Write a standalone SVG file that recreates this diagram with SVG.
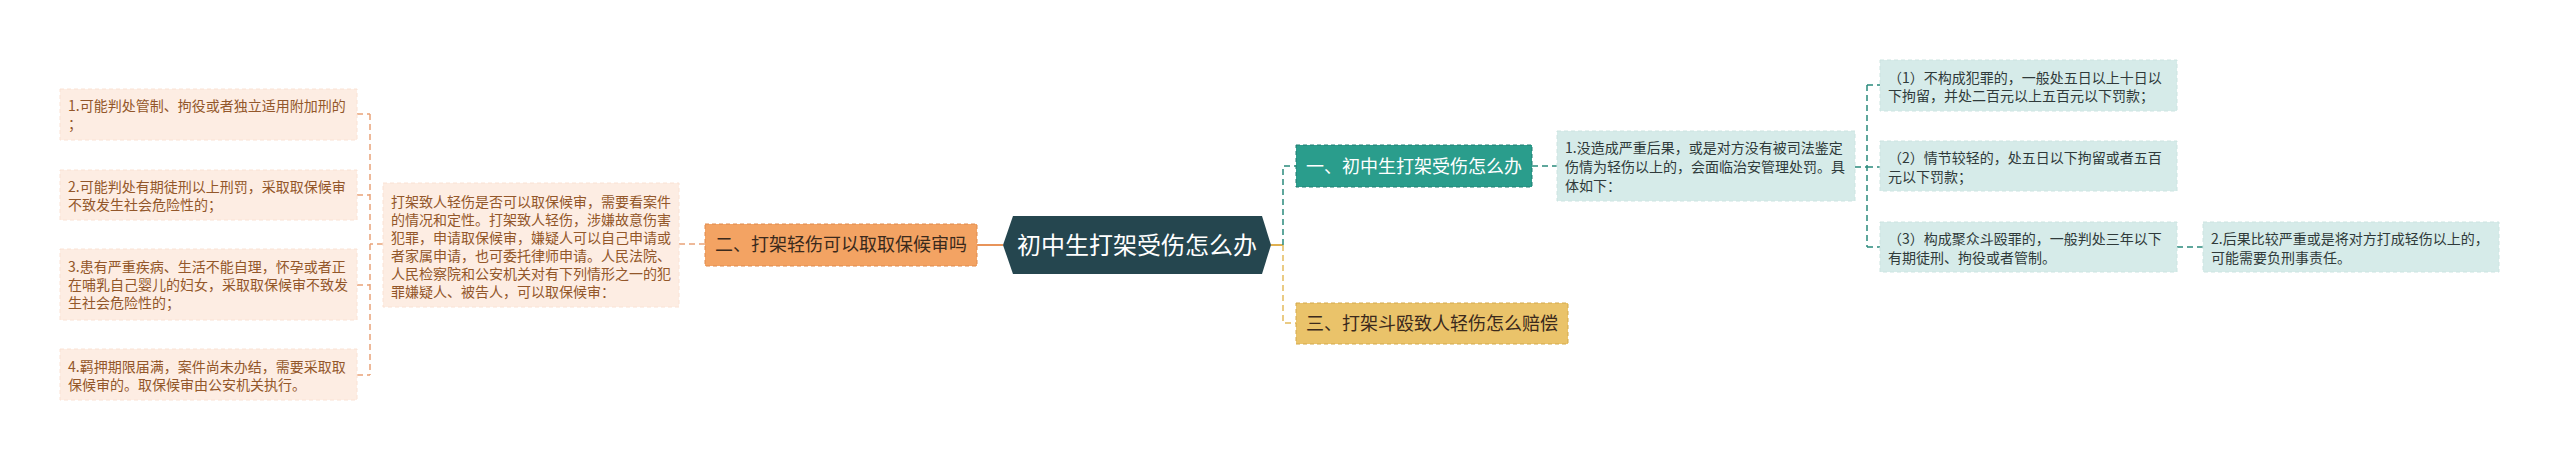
<svg xmlns="http://www.w3.org/2000/svg" width="2560" height="461" viewBox="0 0 2560 461">
<style>
text{font-family:"Noto Sans CJK SC","Noto Sans",sans-serif}
.lbox{fill:#FDEDE3;stroke:#FAE2D4;stroke-width:1;stroke-dasharray:4 3}
.ltxt{font-size:14px;fill:#93572A}
.rbox{fill:#D6EBE9;stroke:#CCE4E1;stroke-width:1;stroke-dasharray:4 3}
.rtxt{font-size:14px;fill:#2F3A3A}
.c-or{fill:none;stroke:#E9A278;stroke-width:1.5;stroke-dasharray:6 4}
.c-tl{fill:none;stroke:#2A8A7C;stroke-width:1.5;stroke-dasharray:6 4}
.c-yl{fill:none;stroke:#E3BA5C;stroke-width:1.5;stroke-dasharray:6 4}
.mid{text-anchor:middle}
</style>
<rect width="2560" height="461" fill="#FFFFFF"/>
<g id="connectors">
<path class="c-or" d="M383 244H370M370 114V375M357 114H370M357 195H370M357 285H370M357 375H370"/>
<path class="c-or" d="M705 244H679"/>
<path d="M977 245H1003" fill="none" stroke="#E8945A" stroke-width="2"/>
<path d="M1271 245H1283" fill="none" stroke="#E0B050" stroke-width="2"/>
<path class="c-tl" d="M1283 245V166H1296" stroke-width="2"/>
<path class="c-yl" d="M1283 245V323H1296" stroke-width="2"/>
<path class="c-tl" d="M1532 166H1557"/>
<path class="c-tl" d="M1855 167H1867M1867 85V247M1867 85H1880M1867 167H1880M1867 247H1880"/>
<path class="c-tl" d="M2177 247H2203"/>
</g>
<g id="root">
<polygon points="1003,245 1013,216 1262,216 1271,245 1262,274 1013,274" fill="#25464F"/>
<text class="mid" x="1137" y="254" font-size="24" fill="#FFFFFF">初中生打架受伤怎么办</text>
</g>
<g id="n2">
<rect x="705" y="224" width="272" height="42" fill="#F3A363" stroke="#E08A4C" stroke-width="1" stroke-dasharray="4 3"/>
<text class="mid" x="841" y="251" font-size="18" fill="#3B2A1C">二、打架轻伤可以取取保候审吗</text>
</g>
<g id="n2-desc">
<rect class="lbox" x="383" y="183" width="296" height="124"/>
<text class="ltxt"><tspan x="391" y="207">打架致人轻伤是否可以取保候审，需要看案件</tspan><tspan x="391" y="225">的情况和定性。打架致人轻伤，涉嫌故意伤害</tspan><tspan x="391" y="243">犯罪，申请取保候审，嫌疑人可以自己申请或</tspan><tspan x="391" y="261">者家属申请，也可委托律师申请。人民法院、</tspan><tspan x="391" y="279">人民检察院和公安机关对有下列情形之一的犯</tspan><tspan x="391" y="297">罪嫌疑人、被告人，可以取保候审：</tspan></text>
</g>
<g id="l1">
<rect class="lbox" x="60" y="89" width="297" height="51"/>
<text class="ltxt"><tspan x="68" y="111">1.可能判处管制、拘役或者独立适用附加刑的</tspan><tspan x="68" y="129">；</tspan></text>
</g>
<g id="l2">
<rect class="lbox" x="60" y="170" width="297" height="50"/>
<text class="ltxt"><tspan x="68" y="192">2.可能判处有期徒刑以上刑罚，采取取保候审</tspan><tspan x="68" y="210">不致发生社会危险性的；</tspan></text>
</g>
<g id="l3">
<rect class="lbox" x="60" y="249" width="297" height="71"/>
<text class="ltxt"><tspan x="68" y="272">3.患有严重疾病、生活不能自理，怀孕或者正</tspan><tspan x="68" y="290">在哺乳自己婴儿的妇女，采取取保候审不致发</tspan><tspan x="68" y="308">生社会危险性的；</tspan></text>
</g>
<g id="l4">
<rect class="lbox" x="60" y="349" width="297" height="51"/>
<text class="ltxt"><tspan x="68" y="372">4.羁押期限届满，案件尚未办结，需要采取取</tspan><tspan x="68" y="390">保候审的。取保候审由公安机关执行。</tspan></text>
</g>
<g id="n1">
<rect x="1296" y="145" width="236" height="42" fill="#2A9D8C" stroke="#1F7F72" stroke-width="1" stroke-dasharray="4 3"/>
<text class="mid" x="1414" y="173" font-size="18" fill="#FFFFFF">一、初中生打架受伤怎么办</text>
</g>
<g id="n3">
<rect x="1296" y="303" width="272" height="41" fill="#EAC36A" stroke="#D4A94A" stroke-width="1" stroke-dasharray="4 3"/>
<text class="mid" x="1432" y="330" font-size="18" fill="#3B2A1C">三、打架斗殴致人轻伤怎么赔偿</text>
</g>
<g id="r1">
<rect class="rbox" x="1557" y="131" width="298" height="70"/>
<text class="rtxt"><tspan x="1565" y="153">1.没造成严重后果，或是对方没有被司法鉴定</tspan><tspan x="1565" y="172">伤情为轻伤以上的，会面临治安管理处罚。具</tspan><tspan x="1565" y="191">体如下：</tspan></text>
</g>
<g id="r1a">
<rect class="rbox" x="1880" y="60" width="297" height="51"/>
<text class="rtxt"><tspan x="1888" y="83">（1）不构成犯罪的，一般处五日以上十日以</tspan><tspan x="1888" y="101">下拘留，并处二百元以上五百元以下罚款；</tspan></text>
</g>
<g id="r1b">
<rect class="rbox" x="1880" y="141" width="297" height="50"/>
<text class="rtxt"><tspan x="1888" y="163">（2）情节较轻的，处五日以下拘留或者五百</tspan><tspan x="1888" y="182">元以下罚款；</tspan></text>
</g>
<g id="r1c">
<rect class="rbox" x="1880" y="222" width="297" height="50"/>
<text class="rtxt"><tspan x="1888" y="244">（3）构成聚众斗殴罪的，一般判处三年以下</tspan><tspan x="1888" y="263">有期徒刑、拘役或者管制。</tspan></text>
</g>
<g id="r2">
<rect class="rbox" x="2203" y="222" width="296" height="50"/>
<text class="rtxt"><tspan x="2211" y="244">2.后果比较严重或是将对方打成轻伤以上的，</tspan><tspan x="2211" y="263">可能需要负刑事责任。</tspan></text>
</g>
</svg>
